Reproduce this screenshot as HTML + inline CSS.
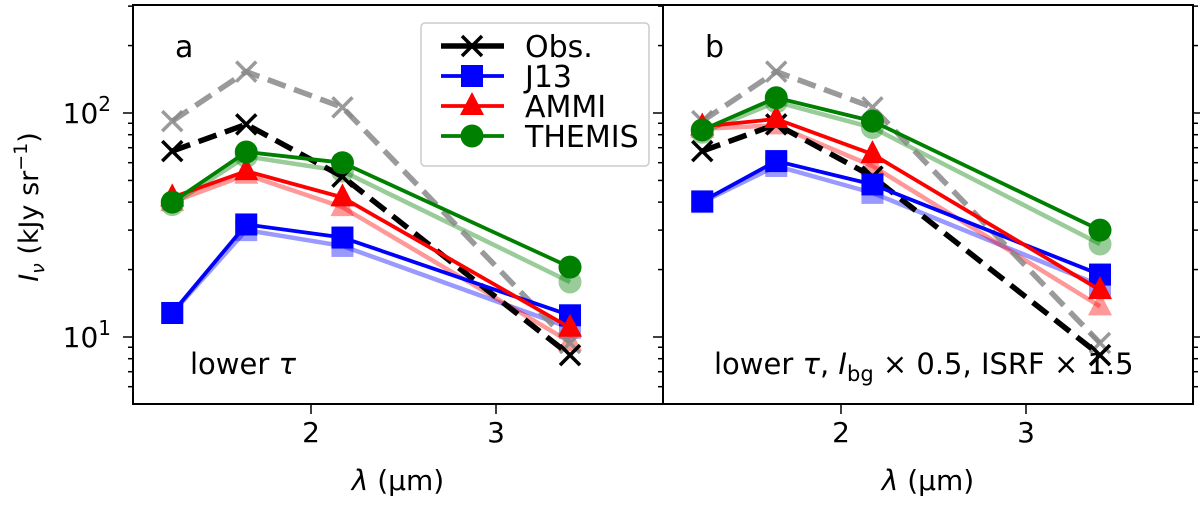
<!DOCTYPE html>
<html><head><meta charset="utf-8"><style>
html,body{margin:0;padding:0;background:#fff;}
svg{display:block;font-family:"DejaVu Sans","Liberation Sans",sans-serif;}
</style></head><body>
<svg id="chart" width="1200" height="505" viewBox="0 0 1200 505"></svg>
<script>
const wavelengths = [1.25, 1.65, 2.17, 3.4];
const obsValues = [67.6, 89, 52, 8.3];
const obsGrayValues = [92, 153, 106, 9.4];
const j13A = [12.8, 31.8, 27.8, 12.5];
const j13AFaded = [12.8, 30, 25.5, 11];
const ammiA = [42, 55, 42, 11];
const ammiAFaded = [40, 53, 38, 9.5];
const themisA = [40, 67, 60, 20.5];
const themisAFaded = [39, 64, 55, 17.6];
const j13B = [40.3, 61, 48, 19];
const j13BFaded = [40, 58, 44, 17];
const ammiB = [87, 94, 65.5, 16.2];
const ammiBFaded = [85, 88, 58, 13.7];
const themisB = [84, 117, 92, 30];
const themisBFaded = [82, 112, 86, 26];
const xTicks = [2, 3];
const yMajorTicks = [10, 100];

const NS = "http://www.w3.org/2000/svg";
const svg = document.getElementById('chart');
function mk(tag, attrs, parent) {
  const e = document.createElementNS(NS, tag);
  for (const k in attrs) e.setAttribute(k, attrs[k]);
  (parent || svg).appendChild(e);
  return e;
}
const yTop = 5, yBot = 404;
function yScale(v) { return 113 - (Math.log10(v) - 2) * 224; }
function makeX(left) { return v => left + 178 + (v - 2) * 185; }

function drawMarker(g, type, x, y, color, op) {
  let m;
  if (type === 'square') m = mk('rect', {x: x - 11, y: y - 11, width: 22, height: 22, fill: color, opacity: op}, g);
  else if (type === 'circle') m = mk('circle', {cx: x, cy: y, r: 11.5, fill: color, opacity: op}, g);
  else if (type === 'triangle') m = mk('polygon', {points: `${x},${y - 14} ${x - 12},${y + 9} ${x + 12},${y + 9}`, fill: color, opacity: op}, g);
  else if (type === 'x') m = mk('path', {d: `M${x - 10},${y - 10}L${x + 10},${y + 10}M${x - 10},${y + 10}L${x + 10},${y - 10}`, stroke: color, 'stroke-width': 3.5, fill: 'none', opacity: op}, g);
  return m;
}
function series(g, xs, vals, color, type, opts) {
  const pts = vals.map((v, i) => [xs(wavelengths[i]), yScale(v)]);
  const line = mk('polyline', {points: pts.map(p => p.join(',')).join(' '), fill: 'none', stroke: color, 'stroke-width': opts.w, 'stroke-dasharray': opts.dash || 'none', opacity: opts.op, 'stroke-linejoin': 'round'}, g);
  pts.forEach(p => drawMarker(g, type, p[0], p[1], color, opts.op));
  return line;
}

function panel(left, label, sets, note, rightTicks) {
  const xs = makeX(left);
  const right = left + 530;
  const g = mk('g', {});
  
  
  const clipId = 'clip' + label;
  const cp = mk('clipPath', {id: clipId}, g);
  mk('rect', {x: left, y: yTop, width: 530, height: yBot - yTop}, cp);
  const plot = mk('g', {'clip-path': `url(#${clipId})`}, g);
  sets.faded.forEach(s => series(plot, xs, s.v, s.c, s.t, {w: 4.5, op: 0.4}));
  const gl = series(plot, xs, obsGrayValues, '#888', 'x', {w: 5.5, dash: '19,9', op: 0.85});
  
  
  const ol = series(plot, xs, obsValues, '#000', 'x', {w: 5.5, dash: '19,9', op: 1});
  
  
  sets.main.forEach(s => {
    const l = series(plot, xs, s.v, s.c, s.t, {w: 3.8, op: 1});
    
    
  });
  mk('rect', {x: left, y: yTop, width: 530, height: yBot - yTop, fill: 'none', stroke: '#000', 'stroke-width': 2}, g);
  const allY = [];
  for (let k = 5; k <= 9; k++) allY.push(k);
  for (let k = 1; k <= 9; k++) allY.push(k * 10);
  for (let k = 1; k <= 3; k++) allY.push(k * 100);
  allY.forEach(v => {
    const y = yScale(v);
    if (y < yTop || y > yBot) return;
    const major = yMajorTicks.includes(v);
    const len = major ? 10 : 5;
    if (left < 600) mk('line', {x1: left - len, y1: y, x2: left, y2: y, stroke: '#000', 'stroke-width': 1.5}, g);
    else mk('line', {x1: right, y1: y, x2: right + len, y2: y, stroke: '#000', 'stroke-width': 1.5}, g);
    if (left < 600) mk('line', {x1: right - len, y1: y, x2: right, y2: y, stroke: '#000', 'stroke-width': 1.5}, g);
  });
  if (left < 600) {
    yMajorTicks.forEach(v => {
      const t = mk('text', {x: 111, y: yScale(v) + 10, 'text-anchor': 'end', 'font-size': 28}, g);
      
      
      t.innerHTML = `10<tspan dy="-12" font-size="20">${Math.log10(v)}</tspan>`;
    });
  }
  xTicks.forEach(v => {
    const x = xs(v);
    mk('line', {x1: x, y1: yBot, x2: x, y2: yBot + 10, stroke: '#000', 'stroke-width': 1.5}, g);
    const t = mk('text', {x: x, y: yBot + 38, 'text-anchor': 'middle', 'font-size': 28}, g);
    
    
    t.textContent = v;
  });
  const xl = mk('text', {x: left + 265, y: 490, 'text-anchor': 'middle', 'font-size': 28}, g);
  
  
  xl.innerHTML = '<tspan font-style="italic">λ</tspan> (μm)';
  const pl = mk('text', {x: left + 42, y: 57, 'font-size': 30}, g);
  
  
  pl.textContent = label;
  const nt = mk('text', {x: note.x, y: 374, 'font-size': 29}, g);
  
  
  nt.innerHTML = note.html;
}

panel(133, 'a', {
  faded: [{v: j13AFaded, c: 'blue', t: 'square'}, {v: ammiAFaded, c: 'red', t: 'triangle'}, {v: themisAFaded, c: 'green', t: 'circle'}],
  main: [{v: j13A, c: 'blue', t: 'square', n: 'j13-a'}, {v: ammiA, c: 'red', t: 'triangle', n: 'ammi-a'}, {v: themisA, c: 'green', t: 'circle', n: 'themis-a'}]
}, {x: 190, html: 'lower <tspan font-style="italic">τ</tspan>'});
panel(663, 'b', {
  faded: [{v: j13BFaded, c: 'blue', t: 'square'}, {v: ammiBFaded, c: 'red', t: 'triangle'}, {v: themisBFaded, c: 'green', t: 'circle'}],
  main: [{v: j13B, c: 'blue', t: 'square', n: 'j13-b'}, {v: ammiB, c: 'red', t: 'triangle', n: 'ammi-b'}, {v: themisB, c: 'green', t: 'circle', n: 'themis-b'}]
}, {x: 714, html: 'lower <tspan font-style="italic">τ</tspan>,  <tspan font-style="italic">I</tspan><tspan dy="7" font-size="21">bg</tspan><tspan dy="-7"> × 0.5,  ISRF × 1.5</tspan>'});

const yl = mk('text', {x: 0, y: 0, 'text-anchor': 'middle', 'font-size': 27, transform: 'translate(38,207) rotate(-90)'});


yl.innerHTML = '<tspan font-style="italic">I</tspan><tspan dy="6" font-size="19" font-style="italic">ν</tspan><tspan dy="-6"> (kJy sr</tspan><tspan dy="-11" font-size="19">−1</tspan><tspan dy="11">)</tspan>';

const lg = mk('g', {});


mk('rect', {x: 421, y: 23, width: 228, height: 143, rx: 4, fill: '#fff', 'fill-opacity': 0.8, stroke: '#ccc', 'stroke-width': 1.5}, lg);
const entries = [['Obs.', '#000', 'x'], ['J13', 'blue', 'square'], ['AMMI', 'red', 'triangle'], ['THEMIS', 'green', 'circle']];
entries.forEach((e, i) => {
  const y = 46 + i * 30;
  const eg = mk('g', {}, lg);
  
  
  mk('line', {x1: 441, y1: y, x2: 504, y2: y, stroke: e[1], 'stroke-width': i === 0 ? 5.5 : 3.8}, eg);
  drawMarker(eg, e[2], 472, y, e[1], 1);
  const t = mk('text', {x: 525, y: y + 11, 'font-size': 30}, eg);
  t.textContent = e[0];
});
</script>
</body></html>
